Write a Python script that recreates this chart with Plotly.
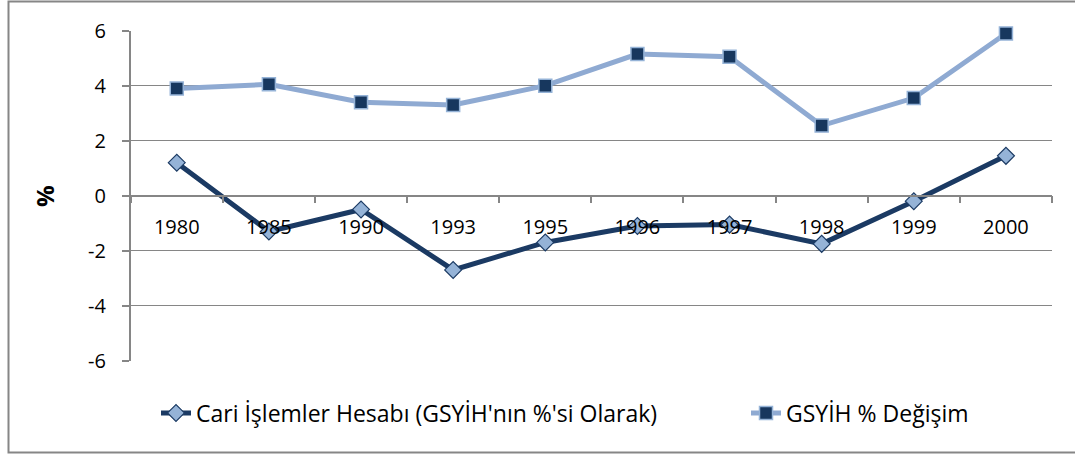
import plotly.graph_objects as go

years = ["1980", "1985", "1990", "1993", "1995", "1996", "1997", "1998", "1999", "2000"]
cari = [1.2, -1.3, -0.5, -2.7, -1.7, -1.1, -1.05, -1.75, -0.2, 1.45]
gsyih = [3.9, 4.05, 3.4, 3.3, 4.0, 5.15, 5.05, 2.55, 3.55, 5.9]
y_ticks = [-6, -4, -2, 0, 2, 4, 6]
y_ticktext = ["-6", "-4", "-2", "0", "2", "4", "6"]

name_cari = "Cari İşlemler Hesabı (GSYİH'nın %'si Olarak)"
name_gsyih = "GSYİH % Değişim"

W, H = 1075, 455
FONT = "Open Sans"
DARK = "#1B3A63"
LIGHT = "#8FAAD2"
GRID = "#868686"

x0p, x1p = 130.7, 1052.0
ytop, ybot = 30.7, 360.7
ydom = [1 - ybot / H, 1 - ytop / H]

fig = go.Figure()
fig.add_trace(go.Scatter(
    x=years, y=cari, name=name_cari, mode="lines+markers", cliponaxis=False,
    line=dict(color=DARK, width=5),
    marker=dict(symbol="diamond", size=13, color="#95B3D7", line=dict(color=DARK, width=1.2)),
    legend="legend",
))
fig.add_trace(go.Scatter(
    x=years, y=gsyih, name=name_gsyih, mode="lines+markers", cliponaxis=False,
    line=dict(color=LIGHT, width=5),
    marker=dict(symbol="square", size=13, color="#17375E", line=dict(color="#95B3D7", width=1.5)),
    legend="legend2",
))

fig.update_layout(
    width=W, height=H,
    margin=dict(l=0, r=0, t=0, b=0),
    paper_bgcolor="white", plot_bgcolor="white",
    font=dict(family=FONT, size=20, color="black"),
    xaxis=dict(
        type="category", domain=[x0p / W, x1p / W], range=[-0.5, 9.5],
        anchor="free", position=(ydom[0] + ydom[1]) / 2, automargin=False,
        showline=True, linecolor=GRID, linewidth=1.5,
        ticks="outside", tickson="boundaries", ticklen=7, tickcolor=GRID, tickwidth=1.5,
        showgrid=False, ticklabelstandoff=14,
        tickfont=dict(family=FONT, size=20, color="black"),
    ),
    yaxis=dict(
        domain=ydom, range=[-6, 6], tickvals=y_ticks, ticktext=y_ticktext, automargin=False,
        showline=True, linecolor=GRID, linewidth=1.5,
        ticks="outside", ticklen=7, tickcolor=GRID, tickwidth=1.5,
        showgrid=True, gridcolor=GRID, gridwidth=1.2, zeroline=False,
        ticklabelstandoff=12,
        tickfont=dict(family=FONT, size=20, color="black"),
    ),
    legend=dict(
        orientation="h", x=156 / W, y=1 - 413 / H, xanchor="left", yanchor="middle",
        font=dict(family=FONT, size=23), bgcolor="rgba(0,0,0,0)",
    ),
    legend2=dict(
        orientation="h", x=746 / W, y=1 - 413 / H, xanchor="left", yanchor="middle",
        font=dict(family=FONT, size=23), bgcolor="rgba(0,0,0,0)",
    ),
    showlegend=True,
)

fig.add_annotation(
    text="<b>%</b>", xref="paper", yref="paper", x=44 / W, y=1 - 196 / H,
    textangle=-90, showarrow=False, font=dict(family=FONT, size=24, color="black"),
    xanchor="center", yanchor="middle",
)

fig.add_shape(
    type="rect", xref="paper", yref="paper",
    x0=8.5 / W, x1=1.02, y0=1 - 452.5 / H, y1=1 - 1.5 / H,
    line=dict(color=GRID, width=2), fillcolor="rgba(0,0,0,0)", layer="below",
)

fig.write_html(
    "out.html",
    config={"displayModeBar": False},
    post_script="document.body.style.margin='0';document.body.style.overflow='hidden';",
)
